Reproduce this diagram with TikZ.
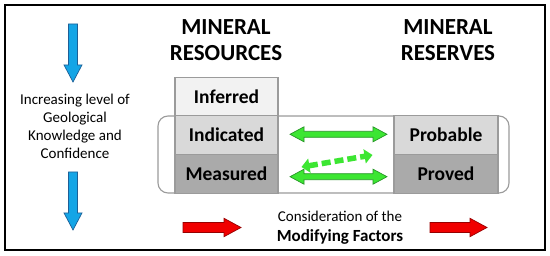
\documentclass[tikz,border=0pt]{standalone}
\usepackage{fontspec}
\setmainfont{Carlito}
\usetikzlibrary{arrows.meta}
\definecolor{boxline}{RGB}{155,155,155}
\definecolor{inferredfill}{RGB}{242,242,242}
\definecolor{indicatedfill}{RGB}{217,217,217}
\definecolor{measuredfill}{RGB}{170,170,170}
\definecolor{arrowgreen}{RGB}{60,230,50}
\definecolor{arrowgreendark}{RGB}{40,150,40}
\definecolor{arrowblue}{RGB}{20,165,230}
\definecolor{arrowbluedark}{RGB}{30,95,150}
\definecolor{arrowred}{RGB}{240,0,0}
\definecolor{arrowreddark}{RGB}{150,0,0}
\begin{document}
\begin{tikzpicture}[x=1pt,y=-1pt,
  box/.style={draw=boxline, line width=1.1pt, minimum width=103pt, minimum height=38.7pt, inner sep=0pt, font=\fontsize{19.5}{23}\selectfont\bfseries},
  titletext/.style={align=center, inner sep=0pt, font=\fontsize{23}{26}\selectfont\bfseries},
  bodytext/.style={align=center, inner sep=0pt},
  greenfat/.style={fill=arrowgreen, draw=arrowgreendark, line width=0.7pt, line join=miter},
  bluefat/.style={fill=arrowblue, draw=arrowbluedark, line width=0.7pt, line join=miter},
  redfat/.style={fill=arrowred, draw=arrowreddark, line width=0.7pt, line join=miter},
  dashgreen/.style={draw=arrowgreen, line width=5.5pt, dash pattern=on 9pt off 4pt, {Triangle[length=8pt,width=14pt]}-{Triangle[length=8pt,width=14pt]}}
]
\useasboundingbox (0,0) rectangle (550,256);
% outer frame
\draw[line width=1.1pt] (5,5) rectangle (545,250);

% titles
\node[titletext] (restitle) at (226,40) {MINERAL\\RESOURCES};
\node[titletext] (sertitle) at (448,40) {MINERAL\\RESERVES};

% rounded band
\draw[draw=boxline, fill=white, rounded corners=10pt, line width=1.1pt] (158,116) rectangle (509,193);

% boxes
\node[box, fill=inferredfill] (inferred) at (226.5,96.5) {Inferred};
\node[box, fill=indicatedfill] (indicated) at (226.5,135.2) {Indicated};
\node[box, fill=measuredfill] (measured) at (226.5,173.9) {Measured};
\node[box, fill=indicatedfill, minimum width=104pt] (probable) at (446,135.2) {Probable};
\node[box, fill=measuredfill, minimum width=104pt] (proved) at (446,173.9) {Proved};

% green double arrows
\draw[greenfat] (290,134.3) -- ++(14,-7.5) -- ++(0,4.5) -- ++(69,0) -- ++(0,-4.5) -- ++(14,7.5) -- ++(-14,7.5) -- ++(0,-4.5) -- ++(-69,0) -- ++(0,4.5) -- cycle;
\draw[greenfat] (290,176.7) -- ++(14,-7.5) -- ++(0,4.5) -- ++(69,0) -- ++(0,-4.5) -- ++(14,7.5) -- ++(-14,7.5) -- ++(0,-4.5) -- ++(-69,0) -- ++(0,4.5) -- cycle;
\coordinate (dA) at (301.5,167);
\coordinate (dB) at (372.5,155);
\draw[dashgreen] (dA) -- (dB);

% blue arrows
\draw[bluefat] (68.5,24) -- (77.5,24) -- (77.5,65) -- (82,65) -- (73,82) -- (64,65) -- (68.5,65) -- cycle;
\draw[bluefat] (68.5,172) -- (77.5,172) -- (77.5,213) -- (82,213) -- (73,230) -- (64,213) -- (68.5,213) -- cycle;

\node[bodytext, font=\fontsize{15}{18}\selectfont] (knowledge) at (75,126) {Increasing level of\\Geological\\Knowledge and\\Confidence};

% red arrows
\draw[redfat] (183,222.5) -- (224,222.5) -- (224,218.3) -- (241,227.5) -- (224,236.7) -- (224,232.5) -- (183,232.5) -- cycle;
\draw[redfat] (430,222.5) -- (470,222.5) -- (470,218.3) -- (487,227.5) -- (470,236.7) -- (470,232.5) -- (430,232.5) -- cycle;

\node[bodytext, font=\fontsize{15}{20}\selectfont] (modifying) at (340,227.5) {Consideration of the\\{\fontsize{17}{20}\selectfont\bfseries Modifying Factors}};
\end{tikzpicture}
\end{document}
